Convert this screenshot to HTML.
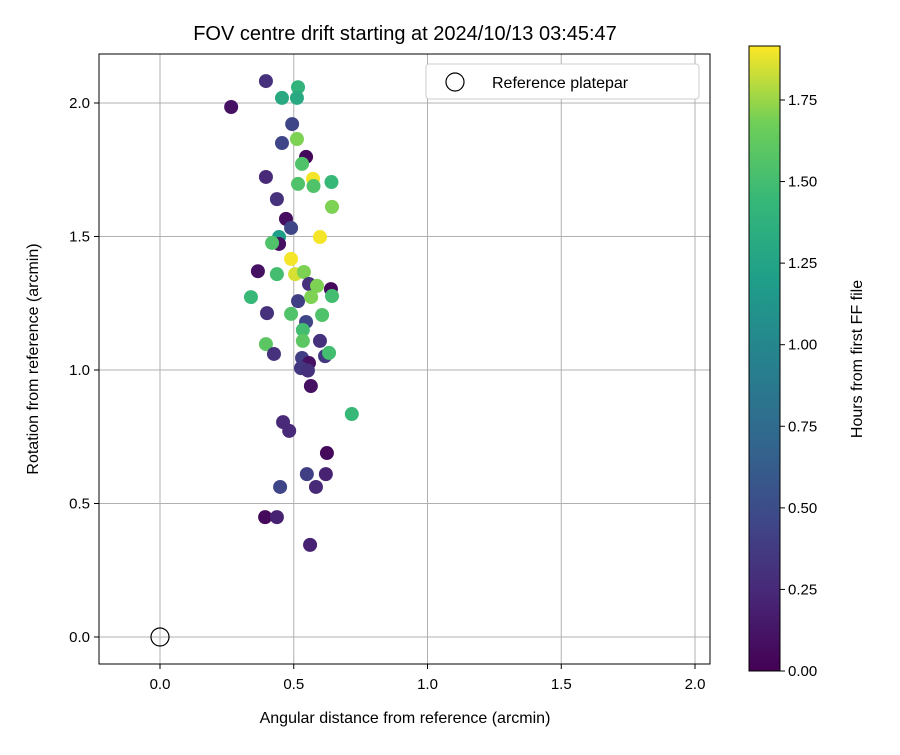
<!DOCTYPE html>
<html><head><meta charset="utf-8"><style>
body{margin:0;background:#fff}
svg{font-family:"Liberation Sans","DejaVu Sans",sans-serif}
</style></head><body>
<svg id="chart" width="900" height="750" viewBox="0 0 900 750" xmlns="http://www.w3.org/2000/svg">
<defs><linearGradient id="vir" x1="0" y1="1" x2="0" y2="0">
<stop offset="0" stop-color="#440154"/><stop offset="0.125" stop-color="#482878"/><stop offset="0.25" stop-color="#3e4a89"/><stop offset="0.375" stop-color="#31688e"/><stop offset="0.5" stop-color="#26828e"/><stop offset="0.625" stop-color="#1f9e89"/><stop offset="0.75" stop-color="#35b779"/><stop offset="0.875" stop-color="#6ece58"/><stop offset="1" stop-color="#fde725"/></linearGradient></defs>
<text x="405" y="40" text-anchor="middle" font-size="20">FOV centre drift starting at 2024/10/13 03:45:47</text>
<g id="grid"></g><g id="pts"></g>
<rect x="99" y="54" width="611" height="610" fill="none" stroke="#000" stroke-width="1"/>
<g id="ticks"></g>
<text x="405" y="723" text-anchor="middle" font-size="16">Angular distance from reference (arcmin)</text>
<text transform="translate(38,359) rotate(-90)" text-anchor="middle" font-size="16">Rotation from reference (arcmin)</text>
<g>
<rect x="426" y="64" width="273" height="35" rx="3" fill="#fff" stroke="#ccc"/>
<circle cx="455" cy="82" r="9" fill="none" stroke="#000" stroke-width="1.2"/>
<text x="492" y="88" font-size="16">Reference platepar</text>
</g>
<rect x="749" y="46" width="31" height="625" fill="url(#vir)" stroke="#000"/>
<g id="cbticks"></g>
<text transform="translate(862,359) rotate(-90)" text-anchor="middle" font-size="16">Hours from first FF file</text>
</svg>
<script>
const xs=[0.396,0.516,0.456,0.512,0.494,0.456,0.512,0.546,0.531,0.396,0.516,0.572,0.574,0.641,0.437,0.643,0.471,0.490,0.598,0.445,0.445,0.419,0.490,0.366,0.437,0.505,0.538,0.557,0.639,0.587,0.643,0.340,0.516,0.565,0.400,0.490,0.546,0.606,0.534,0.396,0.534,0.598,0.426,0.617,0.632,0.531,0.557,0.527,0.553,0.564,0.717,0.460,0.483,0.624,0.549,0.620,0.449,0.583,0.393,0.437,0.561,0.266];
const ys=[2.082,2.059,2.019,2.019,1.921,1.850,1.865,1.798,1.772,1.723,1.697,1.716,1.689,1.704,1.640,1.611,1.566,1.532,1.498,1.498,1.472,1.476,1.416,1.370,1.359,1.359,1.367,1.322,1.303,1.315,1.277,1.273,1.258,1.273,1.213,1.210,1.180,1.206,1.150,1.097,1.109,1.109,1.060,1.052,1.064,1.045,1.026,1.007,0.998,0.940,0.835,0.805,0.772,0.689,0.610,0.610,0.562,0.562,0.449,0.449,0.345,1.985];
const hrs=[0.3,1.4,1.3,1.3,0.45,0.45,1.7,0.05,1.55,0.25,1.55,1.9,1.55,1.45,0.3,1.7,0.08,0.45,1.9,1.2,0.1,1.55,1.9,0.1,1.5,1.85,1.7,0.3,0.05,1.7,1.5,1.45,0.4,1.7,0.3,1.55,0.45,1.55,1.5,1.6,1.6,0.3,0.3,0.35,1.5,0.4,0.1,0.35,0.3,0.1,1.45,0.25,0.25,0.05,0.4,0.2,0.45,0.25,0.05,0.2,0.2,0.1];
const xTicks=[0,0.5,1,1.5,2], yTicks=[0,0.5,1,1.5,2], cbTicks=[0,0.25,0.5,0.75,1,1.25,1.5,1.75];
const X=v=>160+v*267.5, Y=v=>637-v*267, C=v=>671-v*326.3;
const vir=[[68,1,84],[72,40,120],[62,74,137],[49,104,142],[38,130,142],[31,158,137],[53,183,121],[110,206,88],[253,231,37]];
function col(h){let t=Math.max(0,Math.min(1,h/1.915))*8,i=Math.min(7,Math.floor(t)),f=t-i;const a=vir[i],b=vir[i+1];return`rgb(${a.map((c,k)=>Math.round(c+(b[k]-c)*f)).join(',')})`;}
const NS='http://www.w3.org/2000/svg';
function mk(tag,at,parent){const e=document.createElementNS(NS,tag);for(const k in at)e.setAttribute(k,at[k]);document.getElementById(parent).appendChild(e);return e;}
xTicks.forEach(v=>{
 const g=mk('line',{x1:X(v),x2:X(v),y1:54,y2:664,stroke:'#b0b0b0','stroke-width':1},'grid');
 
 
 const t=mk('line',{x1:X(v),x2:X(v),y1:664,y2:669,stroke:'#000'},'ticks');
 
 
 const l=mk('text',{x:X(v),y:689,'text-anchor':'middle','font-size':15},'ticks');l.textContent=v.toFixed(1);
 
 
});
yTicks.forEach(v=>{
 const g=mk('line',{x1:99,x2:710,y1:Y(v),y2:Y(v),stroke:'#b0b0b0','stroke-width':1},'grid');
 
 
 const t=mk('line',{x1:94,x2:99,y1:Y(v),y2:Y(v),stroke:'#000'},'ticks');
 
 
 const l=mk('text',{x:90,y:Y(v)+5,'text-anchor':'end','font-size':15},'ticks');l.textContent=v.toFixed(1);
 
 
});
cbTicks.forEach(v=>{
 const t=mk('line',{x1:780,x2:785,y1:C(v),y2:C(v),stroke:'#000'},'cbticks');
 
 
 const l=mk('text',{x:788,y:C(v)+5,'font-size':15},'cbticks');l.textContent=v.toFixed(2);
 
 
});
xs.forEach((x,i)=>{
 const c=mk('circle',{cx:X(x),cy:Y(ys[i]),r:7,fill:col(hrs[i])},'pts');
 
 
});
const r=mk('circle',{cx:X(0),cy:Y(0),r:9,fill:'none',stroke:'#000','stroke-width':1.2},'pts');


</script>
</body></html>
